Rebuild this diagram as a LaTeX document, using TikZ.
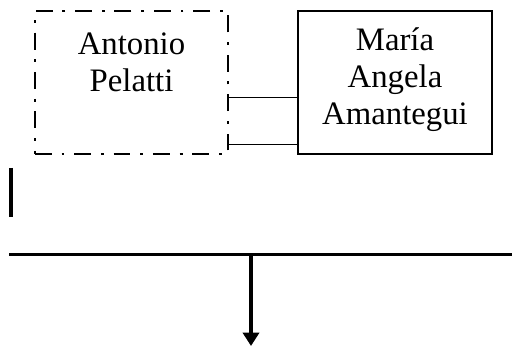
\documentclass[tikz,border=0pt]{standalone}
\usepackage{fontspec}
\setmainfont{Liberation Serif}
\usetikzlibrary{arrows.meta,positioning,calc}

\begin{document}
\begin{tikzpicture}[x=0.025cm,y=-0.025cm,>={Triangle[length=9.5pt,width=11.4pt]},
	every person/.style={minimum width=4.83cm,minimum height=3.575cm,inner sep=0pt},
	name text/.style={align=center,font=\fontsize{23.3}{26.3}\selectfont},
	line/.style={line width=0.7pt},
	heavy/.style={line width=2.8pt}]
		\useasboundingbox (0,0) rectangle (512,346);
		\node[every person,draw,line width=1.5pt,dash pattern=on 12pt off 7pt on 2pt off 7pt] (antonio) at (131.5,82.5) {};
		\node[every person,draw,line width=1.5pt] (maria) at (395,82.5) {};
		\node[name text] (antonio text) at (131.5,62) {Antonio\\Pelatti};
		\node[name text] (maria text) at (395,80) {María\\Angela\\Amantegui};
		\draw[line] ([yshift=-0.3625cm]antonio.east) -- ([yshift=-0.3625cm]maria.west);
		\draw[line] ([yshift=-1.5375cm]antonio.east) -- ([yshift=-1.5375cm]maria.west);
		\coordinate (bar top) at (11,168);
		\coordinate (bar bottom) at (11,217);
		\coordinate (rail left) at (9,254.5);
		\coordinate (rail right) at (512,254.5);
		\coordinate (rail mid) at (251,254.5);
		\coordinate (out) at (251,346);
		\draw[heavy] (bar top) -- (bar bottom);
		\draw[heavy] (rail left) -- (rail right);
		\draw[heavy,->] (rail mid) -- (out);
\end{tikzpicture}
\end{document}
